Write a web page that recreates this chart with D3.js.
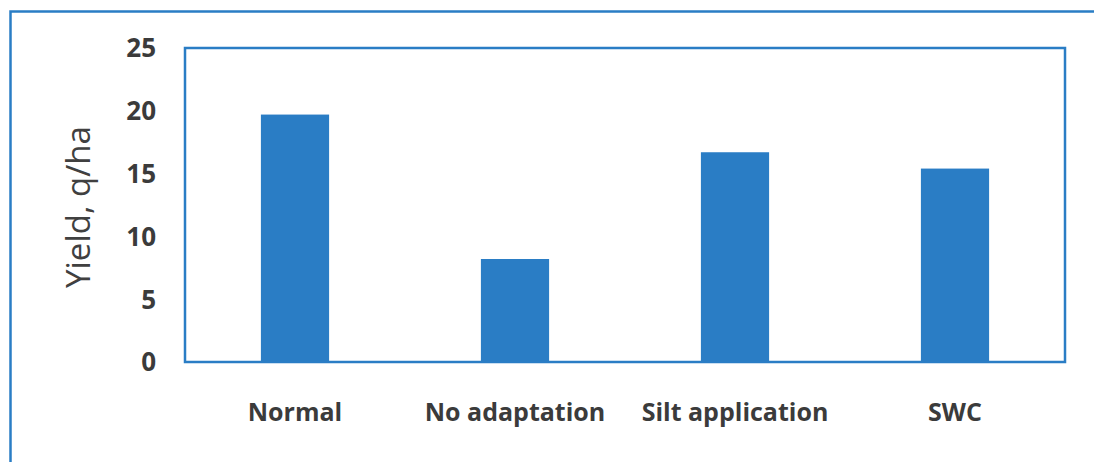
<!DOCTYPE html>
<html>
<head>
<meta charset="utf-8">
<script src="https://cdn.jsdelivr.net/npm/d3@7"></script>
<style>
  html, body { margin: 0; padding: 0; background: #fff; }
  svg { display: block; }
</style>
</head>
<body>
<svg id="chart"></svg>
<script>
// data
const categories = ['Normal', 'No adaptation', 'Silt application', 'SWC'];
const yields     = [19.7, 8.2, 16.7, 15.4];
const yTicks     = [0, 5, 10, 15, 20, 25];

const W = 1094, H = 462;
const BLUE = '#2a7dc5';
const TEXT = '#3b3b3b';

const svg = d3.select('#chart').attr('width', W).attr('height', H);

// outer frame (left + top edges visible)
svg.append('path')
  .attr('d', `M10.5,${H} L10.5,11.5 L${W},11.5`)
  .attr('fill', 'none')
  .attr('stroke', BLUE)
  .attr('stroke-width', 2.5);

// plot box
const plot = { left: 185, top: 48, right: 1065, bottom: 362 };

const x = d3.scaleBand()
  .domain(categories)
  .range([plot.left, plot.right])
  .padding(0);

const y = d3.scaleLinear()
  .domain([0, 25])
  .range([plot.bottom, plot.top]);

const barW = x.bandwidth() * 0.31;

// bars
svg.append('g')
  .selectAll('rect')
  .data(categories)
  .join('rect')
    .attr('x', d => x(d) + x.bandwidth() / 2 - barW / 2)
    .attr('y', (d, i) => y(yields[i]))
    .attr('width', barW)
    .attr('height', (d, i) => y(0) - y(yields[i]))
    .attr('fill', BLUE);

svg.append('rect')
  .attr('x', plot.left)
  .attr('y', plot.top)
  .attr('width', plot.right - plot.left)
  .attr('height', plot.bottom - plot.top)
  .attr('fill', 'none')
  .attr('stroke', BLUE)
  .attr('stroke-width', 2.5);

// y tick labels
svg.append('g')
  .selectAll('text')
  .data(yTicks)
  .join('text')
    .attr('x', 156)
    .attr('y', d => y(d))
    .attr('dy', '0.36em')
    .attr('text-anchor', 'end')
    .attr('font-family', '"Open Sans", sans-serif')
    .attr('font-weight', 'bold')
    .attr('font-size', 26)
    .attr('fill', TEXT)
    .text(d => d);

// x category labels
svg.append('g')
  .selectAll('text')
  .data(categories)
  .join('text')
    .attr('x', d => x(d) + x.bandwidth() / 2)
    .attr('y', 421)
    .attr('text-anchor', 'middle')
    .attr('font-family', '"Open Sans", sans-serif')
    .attr('font-weight', 'bold')
    .attr('font-size', 25)
    .attr('fill', TEXT)
    .text(d => d);

// y axis title
svg.append('text')
  .attr('transform', `translate(90,${(plot.top + plot.bottom) / 2 + 2}) rotate(-90)`)
  .attr('text-anchor', 'middle')
  .attr('font-family', '"Open Sans", sans-serif')
  .attr('font-size', 33)
  .attr('fill', '#404040')
  .text('Yield, q/ha');
</script>
</body>
</html>
